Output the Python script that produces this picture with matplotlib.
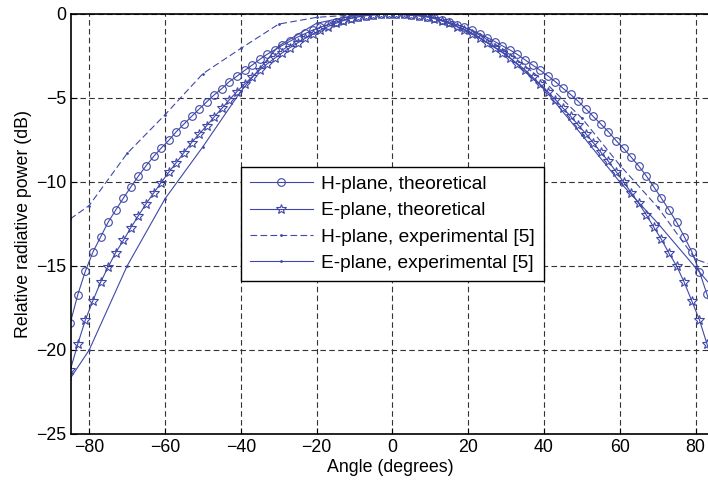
import numpy as np
import matplotlib
matplotlib.use("Agg")
import matplotlib.pyplot as plt

plt.rcParams['font.family'] = ['Liberation Sans', 'DejaVu Sans']

# Theoretical patterns, sampled every 2 degrees (odd angles)
angle_theory = np.arange(-85, 86, 2)
h_theory = [
    -18.4, -16.7, -15.3, -14.16, -13.28, -12.39, -11.67, -10.97, -10.29, -9.64,
    -9.04, -8.48, -7.98, -7.52, -7.0, -6.55, -6.1, -5.66, -5.23, -4.81,
    -4.44, -4.02, -3.7, -3.36, -3.04, -2.7, -2.39, -2.13, -1.86, -1.62,
    -1.37, -1.16, -0.96, -0.79, -0.63, -0.49, -0.36, -0.25, -0.16, -0.09,
    -0.04, -0.01, 0.0,
    0.0, -0.01, -0.04, -0.09, -0.16, -0.25, -0.37, -0.5, -0.64, -0.8,
    -0.97, -1.17, -1.4, -1.64, -1.89, -2.14, -2.41, -2.73, -3.04, -3.35,
    -3.68, -4.03, -4.42, -4.79, -5.19, -5.64, -6.1, -6.55, -7.01, -7.53,
    -8.0, -8.52, -9.05, -9.64, -10.3, -10.97, -11.67, -12.4, -13.25, -14.15,
    -15.33, -16.68, -18.3,
]
e_theory = [
    -21.2, -19.64, -18.2, -17.06, -15.97, -15.06, -14.2, -13.48, -12.72, -12.0,
    -11.3, -10.66, -10.03, -9.42, -8.84, -8.25, -7.66, -7.15, -6.65, -6.12,
    -5.62, -5.1, -4.62, -4.17, -3.74, -3.33, -2.96, -2.62, -2.3, -2.0,
    -1.72, -1.45, -1.2, -0.96, -0.75, -0.56, -0.4, -0.27, -0.17, -0.1,
    -0.05, -0.02, 0.0,
    0.0, -0.02, -0.05, -0.1, -0.17, -0.27, -0.4, -0.56, -0.75, -0.96,
    -1.2, -1.45, -1.72, -2.0, -2.3, -2.62, -2.96, -3.33, -3.76, -4.18,
    -4.62, -5.1, -5.6, -6.08, -6.6, -7.12, -7.66, -8.23, -8.77, -9.38,
    -10.0, -10.63, -11.27, -11.96, -12.7, -13.42, -14.25, -15.0, -15.97, -17.08,
    -18.2, -19.64, -21.2,
]

# Experimental patterns [5]
angle_exp = [-85, -80, -70, -60, -50, -40, -30, -20, -10, 0,
             10, 20, 30, 40, 50, 60, 70, 80, 85]
h_exp = [-12.2, -11.4, -8.3, -6.0, -3.55, -2.05, -0.6, -0.2, -0.05, 0.0,
         -0.15, -0.85, -2.2, -4.0, -6.2, -9.0, -11.5, -14.6, -15.0]
e_exp = [-21.7, -20.0, -15.0, -11.0, -7.9, -4.6, -1.9, -0.55, -0.08, 0.0,
         -0.15, -1.0, -2.4, -4.45, -7.2, -10.0, -12.45, -15.1, -16.4]

color = '#3f48a8'
fs = 12.8

fig = plt.figure(figsize=(7.08, 4.91), dpi=100)
ax = fig.add_axes([71 / 708, 57 / 491, 639 / 708, 420 / 491])

ax.plot(angle_theory, h_theory, color=color, lw=0.8, marker='o', ms=5.5,
        mfc='none', mew=0.8, label='H-plane, theoretical')
ax.plot(angle_theory, e_theory, color=color, lw=0.8, marker='*', ms=7,
        mfc='none', mew=0.8, label='E-plane, theoretical')
ax.plot(angle_exp, h_exp, color=color, lw=0.8, ls=(0, (6, 3)), marker='.',
        ms=2, label='H-plane, experimental [5]')
ax.plot(angle_exp, e_exp, color=color, lw=0.8, marker='.', ms=2,
        label='E-plane, experimental [5]')

ax.set_xlim(-84.8, 83.8)
ax.set_ylim(-25, 0)
ax.set_xticks(np.arange(-80, 81, 20))
ax.set_yticks(np.arange(-25, 1, 5))
ax.grid(True, color='#333333', ls=(0, (5, 3)), lw=0.8)
ax.tick_params(direction='in', length=4, labelsize=fs, colors='black')
for s in ax.spines.values():
    s.set_linewidth(1.2)

ax.set_xlabel('Angle (degrees)', fontsize=fs, labelpad=2)
ax.set_ylabel('Relative radiative power (dB)', fontsize=fs, labelpad=3)

leg = ax.legend(loc='upper left', bbox_to_anchor=(0.266, 0.636), fontsize=13.8,
                frameon=True, fancybox=False, edgecolor='black', framealpha=1,
                handlelength=3.3, handletextpad=0.45, labelspacing=0.47,
                borderpad=0.45, borderaxespad=0)
leg.get_frame().set_linewidth(1.0)

fig.savefig('out.png', dpi=100)
